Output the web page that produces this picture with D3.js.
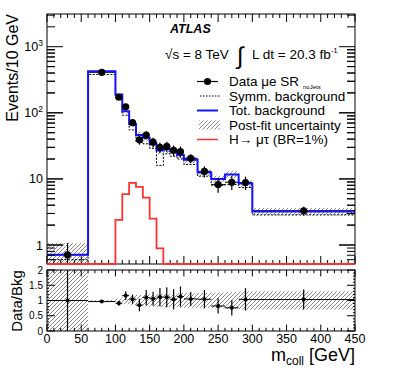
<!DOCTYPE html>
<html>
<head>
<meta charset="utf-8">
<script src="https://cdn.jsdelivr.net/npm/d3@7"></script>
<style>
  body { margin: 0; background: #fff; }
  text { font-family: "Liberation Sans", Arial, Helvetica, sans-serif; fill: #000; }
</style>
</head>
<body>
<svg id="chart" width="395" height="380"></svg>
<script>
// bin edges in GeV
var binEdges = [0, 60, 100, 110, 120, 130, 140, 150, 160, 170, 180, 190, 200, 220, 240, 260, 280, 300, 450];
// events per bin
var dataValues = [0.71, 410, 172, 123, 71, 39, 46, 36, 30, 31, 27, 26, 20.5, 13, 8.2, 8.9, 8.8, 3.3];
var dataErrors = [0.36, 20, 13, 11, 8, 6, 6.5, 6, 5.5, 5.5, 5, 5, 3.2, 2.5, 2, 2.1, 2, 0.5];
var totBkg = [0.71, 425, 189, 106, 68, 46, 42, 34, 27, 28, 26, 23, 19.5, 12.5, 10, 11.7, 8.5, 3.2];
var symmBkg = [0.6, 380, 168, 92, 55, 36, 34, 29, 16, 24, 22, 20, 16.5, 11, 8, 8.2, 7.4, 2.86];
var signalValues = [0, 0, 2.4, 5.9, 8.7, 7.6, 5.2, 2.5, 0.89, 0, 0, 0, 0, 0, 0, 0, 0, 0];
var uncMain = [0.5, 0.03, 0.05, 0.07, 0.1, 0.12, 0.12, 0.12, 0.12, 0.12, 0.12, 0.12, 0.12, 0.12, 0.12, 0.12, 0.12, 0.13];
var uncRatio = [1.0, 0.02, 0.06, 0.12, 0.15, 0.18, 0.2, 0.2, 0.22, 0.22, 0.22, 0.24, 0.24, 0.25, 0.26, 0.28, 0.3, 0.3];
var ratioErrors = [0.9, 0.05, 0.08, 0.14, 0.15, 0.2, 0.25, 0.23, 0.3, 0.33, 0.33, 0.33, 0.23, 0.3, 0.25, 0.25, 0.37, 0.33];

var xTicks = [0, 50, 100, 150, 200, 250, 300, 350, 400, 450];
var yTicks = [1, 10, 100, 1000];
var ratioTicks = [0, 0.5, 1, 1.5, 2];

var legendLabels = ["Data \u03bce SR", "Symm. background", "Tot. background", "Post-fit uncertainty", "H\u2192 \u03bc\u03c4 (BR=1%)"];

var Config = {
  Left: 47,
  Right: 355,
  MainTop: 14,
  MainBottom: 264,
  RatioTop: 270,
  RatioBottom: 331,
  YMin: 0.516,
  YMax: 3126,
  MajorTick: 8,
  MinorTick: 4,
  LegendX: 197,
  LegendY: 81.5,
  LegendStep: 14.5
};

var svg = d3.select("#chart");

var x = d3.scaleLinear().domain([0, 450]).range([Config.Left, Config.Right]);
var y = d3.scaleLog().domain([Config.YMin, Config.YMax]).range([Config.MainBottom, Config.MainTop]);
var yr = d3.scaleLinear().domain([0, 2]).range([Config.RatioBottom, Config.RatioTop]);

var bins = dataValues.map(function (d, i) {
  return {
    x0: binEdges[i], x1: binEdges[i + 1], xc: (binEdges[i] + binEdges[i + 1]) / 2,
    data: d, err: dataErrors[i], tot: totBkg[i], symm: symmBkg[i], sig: signalValues[i],
    unc: uncMain[i], uncR: uncRatio[i], ratio: d / totBkg[i], rErr: ratioErrors[i]
  };
});

// hatch pattern and clips
var defs = svg.append("defs");
defs.append("pattern")
  .attr("id", "hatch")
  .attr("patternUnits", "userSpaceOnUse")
  .attr("width", 4)
  .attr("height", 4)
  .append("path")
  .attr("d", "M-1,1 l2,-2 M0,4 l4,-4 M3,5 l2,-2")
  .attr("stroke", "#555")
  .attr("stroke-width", 0.7);

defs.append("clipPath").attr("id", "clipMain")
  .append("rect")
  .attr("x", Config.Left).attr("y", Config.MainTop)
  .attr("width", Config.Right - Config.Left).attr("height", Config.MainBottom - Config.MainTop);

defs.append("clipPath").attr("id", "clipRatio")
  .append("rect")
  .attr("x", Config.Left).attr("y", Config.RatioTop)
  .attr("width", Config.Right - Config.Left).attr("height", Config.RatioBottom - Config.RatioTop);

defs.append("clipPath").attr("id", "clipSig")
  .append("rect")
  .attr("x", Config.Left).attr("y", Config.MainTop)
  .attr("width", Config.Right - Config.Left).attr("height", Config.MainBottom - Config.MainTop + 2);

function clampY(v) {
  return y(Math.max(v, Config.YMin));
}

// step path through bins
function stepPath(key) {
  var p = d3.path();
  bins.forEach(function (b, i) {
    var yy = clampY(b[key]);
    if (i == 0) p.moveTo(x(b.x0), yy); else p.lineTo(x(b.x0), yy);
    p.lineTo(x(b.x1), yy);
  });
  return p.toString();
}

/////  main panel

var main = svg.append("g").attr("clip-path", "url(#clipMain)");

// post-fit uncertainty band
main.selectAll(".band")
  .data(bins)
  .enter()
  .append("rect")
  .attr("x", function (b) { return x(b.x0); })
  .attr("width", function (b) { return x(b.x1) - x(b.x0); })
  .attr("y", function (b) { return clampY(b.tot * (1 + b.unc)); })
  .attr("height", function (b) { return clampY(b.tot * (1 - b.unc)) - clampY(b.tot * (1 + b.unc)); })
  .attr("fill", "url(#hatch)");

// symmetric background
main.append("path")
  .attr("d", stepPath("symm"))
  .attr("fill", "none")
  .attr("stroke", "#000")
  .attr("stroke-width", 1)
  .attr("stroke-dasharray", "2,1.5");

// data x error bars
main.selectAll(".xerr")
  .data(bins)
  .enter()
  .append("line")
  .attr("x1", function (b) { return x(b.x0); })
  .attr("x2", function (b) { return x(b.x1); })
  .attr("y1", function (b) { return clampY(b.data); })
  .attr("y2", function (b) { return clampY(b.data); })
  .attr("stroke", "#000")
  .attr("stroke-width", 1);

// total background
main.append("path")
  .attr("d", stepPath("tot"))
  .attr("fill", "none")
  .attr("stroke", "#1414ff")
  .attr("stroke-width", 2);

// data y error bars and markers
main.selectAll(".yerr")
  .data(bins)
  .enter()
  .append("line")
  .attr("x1", function (b) { return x(b.xc); })
  .attr("x2", function (b) { return x(b.xc); })
  .attr("y1", function (b) { return clampY(b.data - b.err); })
  .attr("y2", function (b) { return clampY(b.data + b.err); })
  .attr("stroke", "#000")
  .attr("stroke-width", 1.2);

main.selectAll(".dot")
  .data(bins)
  .enter()
  .append("circle")
  .attr("cx", function (b) { return x(b.xc); })
  .attr("cy", function (b) { return clampY(b.data); })
  .attr("r", 3.6)
  .attr("fill", "#000");

/////  ratio panel

var ratio = svg.append("g").attr("clip-path", "url(#clipRatio)");

ratio.selectAll(".rband")
  .data(bins)
  .enter()
  .append("rect")
  .attr("x", function (b) { return x(b.x0); })
  .attr("width", function (b) { return x(b.x1) - x(b.x0); })
  .attr("y", function (b) { return yr(1 + b.uncR); })
  .attr("height", function (b) { return yr(1 - b.uncR) - yr(1 + b.uncR); })
  .attr("fill", "url(#hatch)");

ratio.selectAll(".rxerr")
  .data(bins)
  .enter()
  .append("line")
  .attr("x1", function (b) { return x(b.x0); })
  .attr("x2", function (b) { return x(b.x1); })
  .attr("y1", function (b) { return yr(b.ratio); })
  .attr("y2", function (b) { return yr(b.ratio); })
  .attr("stroke", "#000")
  .attr("stroke-width", 1);

ratio.selectAll(".ryerr")
  .data(bins)
  .enter()
  .append("line")
  .attr("x1", function (b) { return x(b.xc); })
  .attr("x2", function (b) { return x(b.xc); })
  .attr("y1", function (b) { return yr(b.ratio - b.rErr); })
  .attr("y2", function (b) { return yr(b.ratio + b.rErr); })
  .attr("stroke", "#000")
  .attr("stroke-width", 1.2);

ratio.selectAll(".rdot")
  .data(bins)
  .enter()
  .append("circle")
  .attr("cx", function (b) { return x(b.xc); })
  .attr("cy", function (b) { return yr(b.ratio); })
  .attr("r", 2)
  .attr("fill", "#000");

/////  frames and ticks

function frame(top, bottom) {
  svg.append("rect")
    .attr("x", Config.Left).attr("y", top)
    .attr("width", Config.Right - Config.Left).attr("height", bottom - top)
    .attr("fill", "none").attr("stroke", "#000").attr("stroke-width", 1);
}
frame(Config.MainTop, Config.MainBottom);
frame(Config.RatioTop, Config.RatioBottom);

var ticks = svg.append("g").attr("stroke", "#000").attr("stroke-width", 1);

function xTickMarks(top, bottom, scaleLen) {
  d3.range(0, 451, 10).forEach(function (v) {
    var len = (v % 50 == 0 ? Config.MajorTick : Config.MinorTick) * scaleLen;
    ticks.append("line").attr("x1", x(v)).attr("x2", x(v)).attr("y1", bottom).attr("y2", bottom - len);
    ticks.append("line").attr("x1", x(v)).attr("x2", x(v)).attr("y1", top).attr("y2", top + len);
  });
}
xTickMarks(Config.MainTop, Config.MainBottom, 1);
xTickMarks(Config.RatioTop, Config.RatioBottom, 0.8);

// log y ticks
yTicks.forEach(function (dec) {
  [1, 2, 3, 4, 5, 6, 7, 8, 9].forEach(function (m) {
    var v = dec * m / 10;
    [v, v * 10].forEach(function (vv) {
      if (vv < Config.YMin || vv > Config.YMax) return;
      var len = (m == 1 ? Config.MajorTick * 2 : Config.MinorTick * 2);
      ticks.append("line").attr("x1", Config.Left).attr("x2", Config.Left + len).attr("y1", y(vv)).attr("y2", y(vv));
      ticks.append("line").attr("x1", Config.Right).attr("x2", Config.Right - len).attr("y1", y(vv)).attr("y2", y(vv));
    });
  });
});

// ratio y ticks
d3.range(0, 2.01, 0.1).forEach(function (v) {
  var major = Math.abs(v * 2 - Math.round(v * 2)) < 1e-6;
  var len = major ? Config.MajorTick : Config.MinorTick / 2;
  ticks.append("line").attr("x1", Config.Left).attr("x2", Config.Left + len).attr("y1", yr(v)).attr("y2", yr(v));
  ticks.append("line").attr("x1", Config.Right).attr("x2", Config.Right - len).attr("y1", yr(v)).attr("y2", yr(v));
});

// signal drawn over the frame so its floor shows along the bottom
svg.append("path")
  .attr("clip-path", "url(#clipSig)")
  .attr("d", stepPath("sig"))
  .attr("fill", "none")
  .attr("stroke", "#ff3030")
  .attr("stroke-width", 1.8);

/////  tick labels

svg.selectAll(".xlab")
  .data(xTicks)
  .enter()
  .append("text")
  .attr("x", function (v) { return x(v); })
  .attr("y", 343)
  .attr("text-anchor", "middle")
  .attr("font-size", 12.5)
  .text(function (v) { return v; });

var ylab = svg.selectAll(".ylab")
  .data(yTicks)
  .enter()
  .append("text")
  .attr("x", 43)
  .attr("y", function (v) { return y(v) + 4.5; })
  .attr("text-anchor", "end")
  .attr("font-size", 12.5);
ylab.append("tspan").text(function (v) { return v < 100 ? v : "10"; });
ylab.filter(function (v) { return v >= 100; })
  .append("tspan")
  .attr("dy", -5)
  .attr("font-size", 8.5)
  .text(function (v) { return Math.round(Math.log10(v)); });

svg.selectAll(".rlab")
  .data(ratioTicks)
  .enter()
  .append("text")
  .attr("x", 43)
  .attr("y", function (v) { return yr(v) + 3.5; })
  .attr("text-anchor", "end")
  .attr("font-size", 10)
  .text(function (v) { return v; });

// axis titles
svg.append("text")
  .attr("transform", "translate(18," + Config.MainTop + ") rotate(-90)")
  .attr("text-anchor", "end")
  .attr("font-size", 16)
  .text("Events/10 GeV");

svg.append("text")
  .attr("transform", "translate(22,301) rotate(-90)")
  .attr("text-anchor", "middle")
  .attr("font-size", 15)
  .text("Data/Bkg");

var xt = svg.append("text")
  .attr("x", Config.Right)
  .attr("y", 361)
  .attr("text-anchor", "end")
  .attr("font-size", 18);
xt.append("tspan").text("m");
xt.append("tspan").attr("font-size", 12).attr("dy", 4).text("coll");
xt.append("tspan").attr("dy", -4).text(" [GeV]");

/////  labels and legend

svg.append("text")
  .attr("x", 170).attr("y", 33)
  .attr("font-size", 12.5)
  .attr("font-weight", "bold")
  .attr("font-style", "italic")
  .text("ATLAS");

svg.append("text")
  .attr("x", 165).attr("y", 59)
  .attr("font-size", 13.5)
  .text("\u221as = 8 TeV");

svg.append("text")
  .attr("x", 237).attr("y", 64)
  .attr("font-size", 24)
  .text("\u222b");

var lumi = svg.append("text")
  .attr("x", 252).attr("y", 59)
  .attr("font-size", 13.5);
lumi.append("tspan").text("L dt = 20.3 fb");
lumi.append("tspan").attr("dy", -6).attr("font-size", 8).text("-1");

var legend = svg.append("g");
legendLabels.forEach(function (label, i) {
  var cy = Config.LegendY + i * Config.LegendStep;
  legend.append("text")
    .attr("x", Config.LegendX + 32)
    .attr("y", cy + 4.8)
    .attr("font-size", 13.5)
    .text(label);
});

// small subscript under SR
legend.append("text")
  .attr("x", 303)
  .attr("y", Config.LegendY + 7.5)
  .attr("font-size", 6)
  .text("noJets");

var lx0 = Config.LegendX, lx1 = Config.LegendX + 21;
function ly(i) { return Config.LegendY + i * Config.LegendStep; }

legend.append("line").attr("x1", lx0).attr("x2", lx1).attr("y1", ly(0)).attr("y2", ly(0))
  .attr("stroke", "#000").attr("stroke-width", 1.2);
legend.append("circle").attr("cx", (lx0 + lx1) / 2).attr("cy", ly(0)).attr("r", 3.6).attr("fill", "#000");

legend.append("line").attr("x1", lx0 + 3).attr("x2", lx1 + 2).attr("y1", ly(1)).attr("y2", ly(1))
  .attr("stroke", "#000").attr("stroke-width", 1).attr("stroke-dasharray", "1.5,1.5");

legend.append("line").attr("x1", lx0).attr("x2", lx1).attr("y1", ly(2)).attr("y2", ly(2))
  .attr("stroke", "#1414ff").attr("stroke-width", 2);

legend.append("rect").attr("x", lx0 + 2).attr("y", ly(3) - 4.5).attr("width", 21).attr("height", 9)
  .attr("fill", "url(#hatch)");

legend.append("line").attr("x1", lx0).attr("x2", lx1).attr("y1", ly(4)).attr("y2", ly(4))
  .attr("stroke", "#ff3030").attr("stroke-width", 1.5);
</script>
</body>
</html>
